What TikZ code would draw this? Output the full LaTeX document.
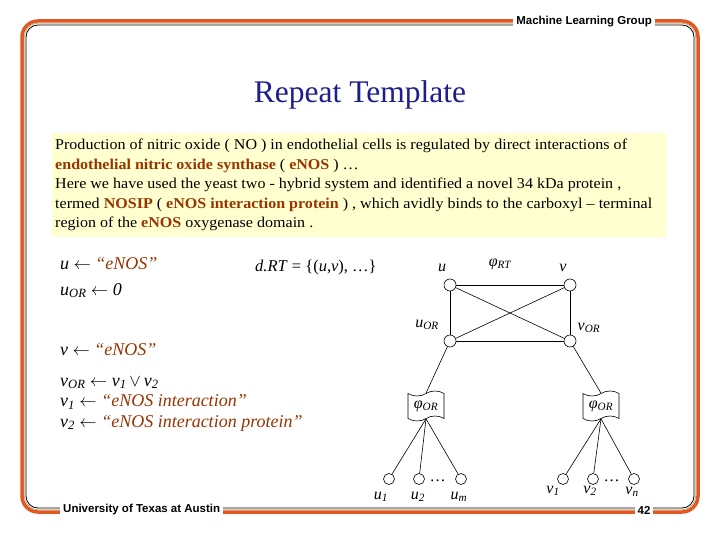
\documentclass[tikz,border=0pt]{standalone}
\usepackage{fontspec}
\setmainfont{Liberation Serif}
\setsansfont{Liberation Sans}
\usetikzlibrary{shapes.symbols}
\definecolor{frameorange}{RGB}{226,88,34}
\definecolor{frametan}{RGB}{190,175,130}
\definecolor{hlc}{RGB}{153,51,0}
\definecolor{titleblue}{RGB}{30,30,140}
\definecolor{boxyellow}{RGB}{255,255,208}
\newfontfamily\widefont[FakeStretch=1.07]{Liberation Serif}
\newcommand{\hlt}[1]{\textcolor{hlc}{\bfseries #1}}
\newcommand{\hli}[1]{\textcolor{hlc}{#1}}
\newcommand{\sbs}[1]{\textsubscript{#1}}
\tikzset{
  vtx/.style={circle, draw, line width=0.6pt, minimum size=12pt, inner sep=0pt},
  leaf/.style={circle, draw, line width=0.6pt, minimum size=11pt, inner sep=0pt},
  factor/.style={tape, draw, line width=0.6pt, minimum width=36pt, minimum height=30pt, inner sep=0pt, tape bend height=5pt},
  edge/.style={line width=0.6pt},
  lab/.style={font=\fontsize{16}{16}\selectfont\itshape, inner sep=0pt},
  asg/.style={font=\fontsize{18}{18}\selectfont\itshape, inner sep=0pt, anchor=base west},
  hdr/.style={font=\sffamily\bfseries\fontsize{11.5}{11.5}\selectfont, fill=white, inner xsep=3pt, inner ysep=4pt}
}
\begin{document}
\begin{tikzpicture}[x=1pt,y=-1pt]
\useasboundingbox (0,0) rectangle (720,540);
% frame
\draw[frameorange, line width=3.5pt, rounded corners=16pt] (22,21) rectangle (698,512);
\draw[frametan, line width=0.8pt, rounded corners=14pt] (24.3,23.2) rectangle (695.7,509.8);
\draw[black, line width=0.8pt, rounded corners=12pt] (26,25) rectangle (694,508);
\node[hdr, anchor=east] (hdr) at (655,22) {Machine Learning Group};
\node[hdr, anchor=west] (ftl) at (60,510) {University of Texas at Austin};
\node[hdr] (ftr) at (644,510) {42};
% title
\node[font=\fontsize{31.5}{31.5}\selectfont, text=titleblue] (title) at (360,95) {Repeat Template};
% yellow box
\fill[boxyellow] (52,133) rectangle (666,237);
\node[anchor=north west, align=left, inner sep=0pt, font=\widefont\fontsize{15}{19.5}\selectfont] (abs) at (55,139)
{Production of nitric oxide ( NO ) in endothelial cells is regulated by direct interactions of\\
\hlt{endothelial nitric oxide synthase} ( \hlt{eNOS} ) …\\
Here we have used the yeast two - hybrid system and identified a novel 34 kDa protein ,\\
termed \hlt{NOSIP} ( \hlt{eNOS interaction protein} ) , which avidly binds to the carboxyl – terminal\\
region of the \hlt{eNOS} oxygenase domain .};
% assignments
\node[asg] (a1) at (60,269.5) {u $\leftarrow$ \hli{“eNOS”}};
\node[asg] (a2) at (60,295) {u\sbs{OR} $\leftarrow$ 0};
\node[asg] (a3) at (60,355) {v $\leftarrow$ \hli{“eNOS”}};
\node[asg] (a4) at (60,386) {v\sbs{OR} $\leftarrow$ v\sbs{1}$\,\vee\,$v\sbs{2}};
\node[asg] (a5) at (60,406.5) {v\sbs{1} $\leftarrow$ \hli{“eNOS interaction”}};
\node[asg] (a6) at (60,427) {v\sbs{2} $\leftarrow$ \hli{“eNOS interaction protein”}};
\node[anchor=base west, inner sep=0pt, font=\fontsize{16.5}{16.5}\selectfont] (drt) at (255,271) {\textit{d.RT} = \{(\textit{u},\textit{v}), …\}};
% graph
\node[vtx] (u) at (450,285) {};
\node[vtx] (v) at (570,285) {};
\node[vtx] (uor) at (450,341) {};
\node[vtx] (vor) at (570,341) {};
\node[lab] at (442,268) {u};
\node[lab] at (500,264) {φ\sbs{RT}};
\node[lab] at (563,268) {v};
\node[lab] at (427,325) {u\sbs{OR}};
\node[lab] at (589,328) {v\sbs{OR}};
\draw[edge] (u) -- (v);
\draw[edge] (u) -- (uor);
\draw[edge] (v) -- (vor);
\draw[edge] (uor) -- (vor);
\draw[edge] (u) -- (vor);
\draw[edge] (v) -- (uor);
\node[factor] (fl) at (426,406) {\itshape\fontsize{16}{16}\selectfont φ\sbs{OR}};
\node[factor] (fr) at (601,406) {\itshape\fontsize{16}{16}\selectfont φ\sbs{OR}};
\draw[edge] (uor) -- (fl.north);
\draw[edge] (vor) -- (fr.north);
\node[leaf] (u1) at (389,479) {};
\node[leaf] (u2) at (419,479) {};
\node[leaf] (um) at (461,479) {};
\node[leaf] (v1) at (563,479) {};
\node[leaf] (v2) at (593,479) {};
\node[leaf] (vn) at (634,479) {};
\foreach \t in {u1,u2,um}{\draw[edge] (fl.south) -- (\t);}
\foreach \t in {v1,v2,vn}{\draw[edge] (fr.south) -- (\t);}
\node[lab] (dl) at (438,481) {…};
\node[lab] (dr) at (612,481) {…};
\node[lab] at (381,497) {u\sbs{1}};
\node[lab] at (418,497) {u\sbs{2}};
\node[lab] at (459,497) {u\sbs{m}};
\node[lab] at (553,491) {v\sbs{1}};
\node[lab] at (590,491) {v\sbs{2}};
\node[lab] at (632,492) {v\sbs{n}};
\end{tikzpicture}
\end{document}
